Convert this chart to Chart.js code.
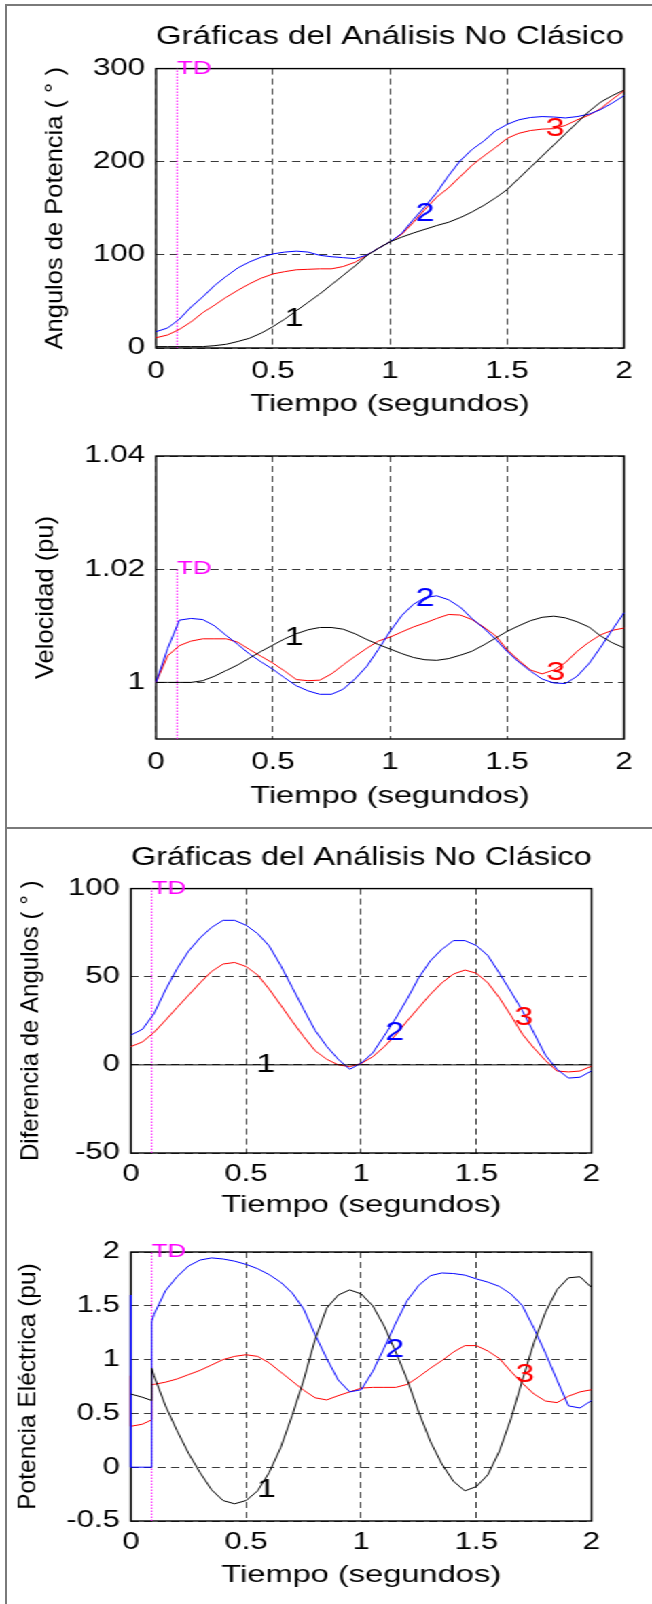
<!DOCTYPE html>
<html lang="es">
<head>
<meta charset="utf-8">
<title>Gráficas del Análisis No Clásico</title>
<script src="https://cdn.jsdelivr.net/npm/chart.js@4.4.1/dist/chart.umd.min.js"></script>
<style>
  html, body { margin:0; padding:0; background:#fff; }
  body { position:relative; width:652px; height:1604px; overflow:hidden; }
  /* la figura original esta estirada a lo ancho: se dibuja estrecha y se ensancha */
  #sheet { position:absolute; left:0; top:0; width:480px; height:1604px;
           transform:scaleX(1.358333); transform-origin:0 0; }
  .plot { position:absolute; left:0; width:480px; }
  .rule { position:absolute; background:#7a7a7a; }
</style>
</head>
<body>
<div id="sheet">
  <div class="plot" style="top:0;height:420px"><canvas id="c1"></canvas></div>
  <div class="plot" style="top:420px;height:408px"><canvas id="c2"></canvas></div>
  <div class="plot" style="top:828px;height:397px"><canvas id="c3"></canvas></div>
  <div class="plot" style="top:1225px;height:379px"><canvas id="c4"></canvas></div>
</div>
<div class="rule" style="left:5px;top:4px;width:2px;height:1600px"></div>
<div class="rule" style="left:5px;top:4px;width:647px;height:2px"></div>
<div class="rule" style="left:5px;top:827px;width:647px;height:2px"></div>

<script>
const STRETCH = 652 / 480;
const FONT = '"Liberation Sans", Arial, Helvetica, sans-serif';
const COLORS = ['#000000', '#0000ff', '#ff0000'];
const MARK_TEXT = ['1', '2', '3'];
const TD = 0.09;

// ---- eje de tiempo
const T = [0,0.05,0.1,0.15,0.2,0.25,0.3,0.35,0.4,0.45,0.5,0.55,0.6,0.65,0.7,0.75,0.8,0.85,0.9,0.95,
           1,1.05,1.1,1.15,1.2,1.25,1.3,1.35,1.4,1.45,1.5,1.55,1.6,1.65,1.7,1.75,1.8,1.85,1.9,1.95,2];
const X_TICKS = [0, 0.5, 1, 1.5, 2];
const X_LABELS = ['0', '0.5', '1', '1.5', '2'];

// ---- Angulos de potencia (grados)
const ANG_1 = [1.5,1.5,1.5,1.5,1.5,2.5,4,7,10.5,16,23,31,40,49,58,68,78,88,99,107,
               114,119,123.5,127.5,131.5,135,140,146,153,161,170,182,194,206,218,230,242,254,264,271,277];
const ANG_2 = [17.5,21.5,31,44,55,67,77,86,92.5,97.5,101,103,104,103,99.5,98,97,96,99.6,107,
               114,123,138,152,167,185,201,213,222,233,240,245,247.5,248.5,248,247,248.5,251,256,263,271];
const ANG_3 = [11,14,20,28,38,46,54.5,62,69,75,79.5,82,84,84.5,85,85,87.5,92,99.6,107,
               114,122,135,149,162,172,184,196,206,215,225,230.5,233.5,235,235.5,239,245,250,257,267,276];
const ANG_TICKS = [0, 100, 200, 300];
const ANG_LABELS = ['0', '100', '200', '300'];
const ANG_MARK_T = [0.59, 1.15, 1.705];
const ANG_MARK_V = [31, 143.6, 234.6];

// ---- Velocidad (pu)
const VEL_1 = [1,1,1,1,1.0003,1.0011,1.0021,1.0031,1.0043,1.0055,1.0066,1.0077,1.0086,1.0093,1.0097,1.0097,1.0094,1.0086,1.0076,1.0067,
               1.0059,1.0051,1.0044,1.0040,1.0039,1.0042,1.0048,1.0055,1.0066,1.0078,1.0090,1.0100,1.0109,1.0115,1.0117,1.0114,1.0107,1.0098,1.0082,1.0070,1.0061];
const VEL_2 = [1,1.0060,1.0110,1.0113,1.0111,1.0100,1.0083,1.0067,1.0050,1.0036,1.0023,1.0008,0.9994,0.9985,0.9979,0.9979,0.9988,1.0006,1.0028,1.0058,
               1.0090,1.0118,1.0138,1.0150,1.0153,1.0146,1.0133,1.0113,1.0096,1.0077,1.0055,1.0036,1.0020,1.0006,0.9999,0.9998,1.0011,1.0033,1.0062,1.0093,1.0123];
const VEL_3 = [1,1.0047,1.0065,1.0073,1.0077,1.0077,1.0077,1.0071,1.0058,1.0046,1.0034,1.0020,1.0005,1.0003,1.0004,1.0015,1.0031,1.0046,1.0060,1.0073,
               1.0080,1.0089,1.0098,1.0105,1.0113,1.0120,1.0119,1.0111,1.0098,1.0083,1.0058,1.0039,1.0022,1.0015,1.0022,1.0035,1.0055,1.0071,1.0084,1.0092,1.0096];
const VEL_TICKS = [1, 1.02, 1.04];
const VEL_LABELS = ['1', '1.02', '1.04'];
const VEL_MARK_T = [0.59, 1.15, 1.709];
const VEL_MARK_V = [1.0079, 1.0148, 1.0016];

// ---- Diferencia de angulos (grados)
const DIF_1 = [0,0,0,0,0,0,0,0,0,0,0,0,0,0,0,0,0,0,0,0,0,0,0,0,0,0,0,0,0,0,0,0,0,0,0,0,0,0,0,0,0];
const DIF_2 = [16.9,20.2,29,42.5,54.5,64.5,72,78,82,82,79.2,74.5,67.5,56.5,44,31.5,19.5,10.5,3.2,-2.5,
               1,6.8,16.5,26.5,37.5,49.5,59,65.5,70.5,70.5,67.7,62,52,41.5,30.7,18,5.5,-2.5,-7.5,-7,-3.4];
const DIF_3 = [10.4,13,18.4,25.3,32.5,39.5,46.5,53,57.2,58.1,55.8,51,43,34,24.8,16,8,3.2,0,-1,
               0.8,4.6,10.3,17,25,32.5,40,46.5,51.5,53.8,52,46.5,38,28,17.4,9.5,2.5,-3.5,-4,-3.5,-0.7];
const DIF_TICKS = [-50, 0, 50, 100];
const DIF_LABELS = ['-50', '0', '50', '100'];
const DIF_MARK_T = [0.586, 1.146, 1.706];
const DIF_MARK_V = [0, 17.9, 26.4];

// ---- Potencia electrica (pu), con saltos en t=0 y en TD
const T_POT = [0,0,0.05,0.09,0.09,0.1,0.15,0.2,0.25,0.3,0.35,0.4,0.45,0.5,0.55,0.6,0.65,0.7,0.75,0.8,0.85,0.9,0.95,
               1,1.05,1.1,1.15,1.2,1.25,1.3,1.35,1.4,1.45,1.5,1.55,1.6,1.65,1.7,1.75,1.8,1.85,1.9,1.95,2];
const POT_1 = [0.68,0.68,0.65,0.62,0.92,0.85,0.57,0.34,0.13,-0.05,-0.21,-0.31,-0.34,-0.31,-0.22,-0.05,0.18,0.48,0.81,1.19,1.478,1.6,1.648,
               1.61,1.5,1.31,1.07,0.81,0.51,0.24,0.03,-0.13,-0.22,-0.18,-0.07,0.15,0.45,0.81,1.16,1.44,1.65,1.76,1.77,1.67];
const POT_2 = [1.6,0,0,0,1.35,1.42,1.64,1.77,1.87,1.925,1.945,1.935,1.915,1.885,1.845,1.79,1.72,1.62,1.47,1.23,1.01,0.81,0.7,
               0.72,0.89,1.11,1.34,1.55,1.69,1.78,1.805,1.8,1.785,1.75,1.72,1.68,1.61,1.5,1.29,1.06,0.81,0.57,0.55,0.62];
const POT_3 = [0.85,0.38,0.4,0.44,0.77,0.77,0.79,0.82,0.86,0.9,0.95,1,1.03,1.045,1.03,0.97,0.885,0.8,0.715,0.645,0.625,0.665,0.7,
               0.735,0.742,0.742,0.742,0.77,0.84,0.92,0.99,1.07,1.13,1.13,1.08,1.01,0.89,0.78,0.68,0.615,0.6,0.66,0.7,0.72];
const POT_TICKS = [-0.5, 0, 0.5, 1, 1.5, 2];
const POT_LABELS = ['-0.5', '0', '0.5', '1', '1.5', '2'];
const POT_MARK_T = [0.588, 1.146, 1.71];
const POT_MARK_V = [-0.211, 1.092, 0.859];

const TITLE = 'Gráficas del Análisis No Clásico';

function plot(id, o) {
  const pts = (t, v) => t.map((x, i) => ({ x, y: v[i] }));
  const datasets = o.series.map((v, k) => ({
    data: pts(o.t, v), borderColor: COLORS[k], borderWidth: 1,
    pointRadius: 0, tension: 0, clip: false
  }));
  // linea de despeje TD
  datasets.push({
    data: [{ x: TD, y: o.min }, { x: TD, y: o.tdTop }],
    borderColor: '#ff00ff', borderWidth: 1, borderDash: [1.5, 1.5],
    pointRadius: 0, clip: false
  });

  const decor = {
    id: 'decor',
    beforeDatasetsDraw(chart) {
      const { ctx, chartArea: a } = chart;
      ctx.save();
      ctx.strokeStyle = '#000'; ctx.lineWidth = 1.4;
      ctx.strokeRect(a.left, a.top, a.right - a.left, a.bottom - a.top);
      ctx.restore();
    },
    afterDraw(chart) {
      const { ctx, chartArea: a, scales: { x, y } } = chart;
      // titulo del eje y (sin estirar)
      ctx.save();
      ctx.fillStyle = '#000'; ctx.textAlign = 'center'; ctx.textBaseline = 'middle';
      ctx.font = `${o.yTitleSize}px ${FONT}`;
      ctx.translate(o.yTitleX, (a.top + a.bottom) / 2);
      ctx.scale(1 / STRETCH, 1);
      ctx.rotate(-Math.PI / 2);
      ctx.fillText(o.yTitle, 0, 0);
      ctx.restore();
      // etiquetas de las curvas
      ctx.save();
      ctx.textAlign = 'center'; ctx.textBaseline = 'middle';
      ctx.font = `25px ${FONT}`;
      MARK_TEXT.forEach((s, k) => {
        ctx.fillStyle = COLORS[k];
        ctx.fillText(s, x.getPixelForValue(o.markT[k]), y.getPixelForValue(o.markV[k]));
      });
      ctx.fillStyle = '#ff00ff'; ctx.textAlign = 'left';
      ctx.font = `19px ${FONT}`;
      ctx.fillText('TD', x.getPixelForValue(TD), y.getPixelForValue(o.tdTop));
      ctx.restore();
    }
  };

  const grid = { color: '#3a3a3a', lineWidth: 1, drawTicks: false, borderDash: [6, 4] };
  const border = { display: false, dash: [6, 4] };

  return new Chart(document.getElementById(id), {
    type: 'line',
    data: { datasets },
    options: {
      responsive: true, maintainAspectRatio: false, animation: false,
      layout: { padding: o.pad },
      plugins: {
        legend: { display: false }, tooltip: { enabled: false },
        title: {
          display: !!o.title, text: o.title, fullSize: false, color: '#000',
          font: { size: 25.5, weight: 'normal' }, padding: o.titlePad
        }
      },
      scales: {
        x: {
          type: 'linear', min: 0, max: 2,
          afterBuildTicks: s => { s.ticks = X_TICKS.map(v => ({ value: v })); },
          afterFit: s => { s.height = 72; },
          ticks: { callback: (v, i) => X_LABELS[i], color: '#000', font: { size: 23 },
                   padding: o.tickPadX, maxRotation: 0, autoSkip: false },
          grid, border,
          title: { display: true, text: 'Tiempo (segundos)', color: '#000',
                   font: { size: 24 }, padding: { top: 0, bottom: o.xTitlePad } }
        },
        y: {
          type: 'linear', min: o.min, max: o.max,
          afterBuildTicks: s => { s.ticks = o.ticks.map(v => ({ value: v })); },
          afterFit: s => { s.width = o.left; },
          ticks: { callback: (v, i) => o.labels[i], color: '#000', font: { size: 23 },
                   padding: 8, autoSkip: false },
          grid, border
        }
      }
    },
    plugins: [decor]
  });
}

Chart.defaults.font.family = FONT;
Chart.defaults.color = '#000';

plot('c1', {
  t: T, series: [ANG_1, ANG_2, ANG_3], min: 0, max: 300, tdTop: 300,
  ticks: ANG_TICKS, labels: ANG_LABELS, markT: ANG_MARK_T, markV: ANG_MARK_V,
  title: TITLE, titlePad: { top: 22, bottom: 16 },
  pad: { top: 0, left: 0, right: 20.6, bottom: 0 }, left: 114.85,
  tickPadX: 9.5, xTitlePad: 1.6,
  yTitle: 'Angulos de Potencia ( ° )', yTitleX: 41.2, yTitleSize: 25.5
});
plot('c2', {
  t: T, series: [VEL_1, VEL_2, VEL_3], min: 0.99, max: 1.04, tdTop: 1.02,
  ticks: VEL_TICKS, labels: VEL_LABELS, markT: VEL_MARK_T, markV: VEL_MARK_V,
  title: '', titlePad: 0,
  pad: { top: 36, left: 0, right: 20.6, bottom: 17 }, left: 114.85,
  tickPadX: 9.5, xTitlePad: 0.6,
  yTitle: 'Velocidad (pu)', yTitleX: 33.9, yTitleSize: 25.5
});
plot('c3', {
  t: T, series: [DIF_1, DIF_2, DIF_3], min: -50, max: 100, tdTop: 100,
  ticks: DIF_TICKS, labels: DIF_LABELS, markT: DIF_MARK_T, markV: DIF_MARK_V,
  title: TITLE, titlePad: { top: 15, bottom: 15 },
  pad: { top: 0, left: 0, right: 44.5, bottom: 0 }, left: 96.4,
  tickPadX: 7.5, xTitlePad: 5.6,
  yTitle: 'Diferencia de Angulos ( ° )', yTitleX: 22.8, yTitleSize: 24
});
plot('c4', {
  t: T_POT, series: [POT_1, POT_2, POT_3], min: -0.5, max: 2, tdTop: 2,
  ticks: POT_TICKS, labels: POT_LABELS, markT: POT_MARK_T, markV: POT_MARK_V,
  title: '', titlePad: 0,
  pad: { top: 27, left: 0, right: 44.5, bottom: 11 }, left: 96.4,
  tickPadX: 7.5, xTitlePad: 3.6,
  yTitle: 'Potencia Eléctrica (pu)', yTitleX: 21.3, yTitleSize: 24.5
});
</script>
</body>
</html>
